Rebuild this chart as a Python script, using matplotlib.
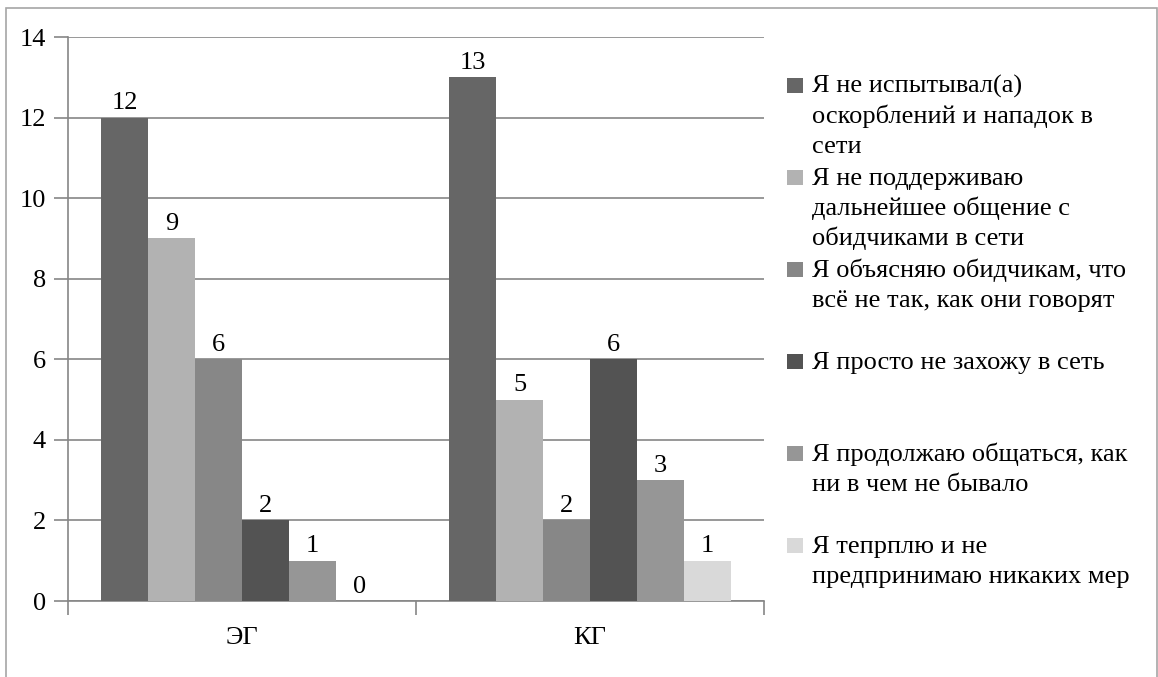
import matplotlib
matplotlib.use('Agg')
import matplotlib.pyplot as plt
from matplotlib.patches import Rectangle
import numpy as np

# data
groups = ['ЭГ', 'КГ']
series = [
    'Я не испытывал(а)\nоскорблений и нападок в\nсети',
    'Я не поддерживаю\nдальнейшее общение с\nобидчиками в сети',
    'Я объясняю обидчикам, что\nвсё не так, как они говорят',
    'Я просто не захожу в сеть',
    'Я продолжаю общаться, как\nни в чем не бывало',
    'Я тепрплю и не\nпредпринимаю никаких мер',
]
values_eg = [12, 9, 6, 2, 1, 0]
values_kg = [13, 5, 2, 6, 3, 1]
colors = ['#666666', '#b2b2b2', '#878787', '#535353', '#969696', '#d9d9d9']

plt.rcParams['font.family'] = ['Liberation Serif', 'DejaVu Serif']
FS = 19

W, H = 1158, 677
fig = plt.figure(figsize=(W / 100, H / 100), dpi=100)
fig.patches.append(Rectangle((6 / W, -0.05), (1157 - 6) / W, 1.05 - 8 / H,
                             transform=fig.transFigure, fill=False,
                             edgecolor='#a6a6a6', linewidth=1.2))

ax = fig.add_axes([68 / W, 1 - 601 / H, (764 - 68) / W, (601 - 37) / H])

bw = 47 / 348
nser = len(series)
for i in range(nser):
    xs = np.arange(len(groups)) + 0.5 + (i - (nser - 1) / 2) * bw
    vals = [values_eg[i], values_kg[i]]
    ax.bar(xs, vals, width=bw, color=colors[i], zorder=3)
    for x, v in zip(xs, vals):
        ax.text(x, v + 0.08, str(v), ha='center', va='bottom', fontsize=FS, color='black', zorder=4)

ax.set_xlim(0, 2)
ax.set_ylim(0, 14)
ax.set_yticks(range(0, 15, 2))
ax.set_xticks([0, 1, 2])
ax.set_xticklabels([])
ax.set_xticks([0.5, 1.5], minor=True)
ax.set_xticklabels(groups, minor=True)
ax.tick_params(axis='x', which='minor', length=0, pad=19, labelsize=FS)
ax.tick_params(axis='x', which='major', length=10, color='#868686', width=1.2)
ax.tick_params(axis='y', length=10, color='#868686', width=1.2, labelsize=FS, pad=6)
ax.yaxis.grid(True, color='#868686', linewidth=1.2, zorder=0)
for s in ['top', 'right']:
    ax.spines[s].set_visible(False)
for s in ['left', 'bottom']:
    ax.spines[s].set_color('#868686')
    ax.spines[s].set_linewidth(1.2)

# legend drawn by hand, one slot per series, one text per line
y0 = 85
step = 92
line_h = 30
for i, lab in enumerate(series):
    yc = y0 + i * step
    fig.patches.append(Rectangle((787 / W, 1 - (yc + 7.5) / H), 16 / W, 15 / H,
                                 transform=fig.transFigure, facecolor=colors[i],
                                 edgecolor='none'))
    for j, line in enumerate(lab.split('\n')):
        fig.text(812 / W, 1 - (yc + 8 + j * line_h) / H, line, ha='left',
                 va='baseline', fontsize=FS)

fig.savefig('out.png', dpi=100)
